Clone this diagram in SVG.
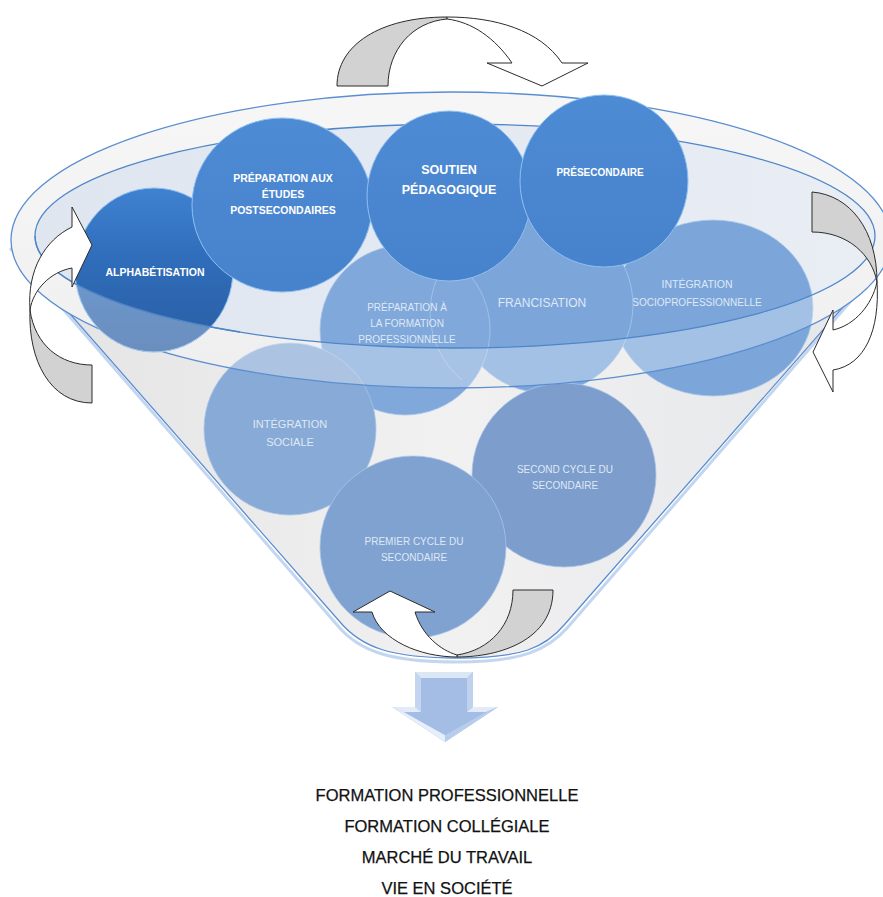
<svg xmlns="http://www.w3.org/2000/svg" width="883" height="897" viewBox="0 0 883 897">
<defs>
<linearGradient id="coneG" x1="0" y1="0" x2="1" y2="0">
<stop offset="0" stop-color="#e3e3e3"/><stop offset="0.5" stop-color="#f1f1f2"/><stop offset="1" stop-color="#e5e6e8"/>
</linearGradient>
<linearGradient id="ringG" x1="0" y1="0" x2="0" y2="1">
<stop offset="0" stop-color="#f3f3f3"/><stop offset="1" stop-color="#e8e8e8"/>
</linearGradient>
<linearGradient id="bowlG" x1="0" y1="0" x2="1" y2="0">
<stop offset="0" stop-color="#dfe6f0"/><stop offset="1" stop-color="#e9edf4"/>
</linearGradient>
<linearGradient id="alphaG" x1="0" y1="0" x2="0" y2="1">
<stop offset="0" stop-color="#3f82d1"/><stop offset="0.45" stop-color="#2f6cb9"/><stop offset="1" stop-color="#2a5ea3"/>
</linearGradient>
<linearGradient id="frontG" x1="0" y1="0" x2="0" y2="1">
<stop offset="0" stop-color="#4e8bd5"/><stop offset="1" stop-color="#4782cc"/>
</linearGradient>
<clipPath id="alphaClip"><ellipse cx="154" cy="270" rx="79" ry="82"/></clipPath>
<style>
.front{fill:url(#frontG);stroke:#8ec0f0;stroke-width:1}
.back{fill:#7ca6da;stroke:#a9c6ea;stroke-width:0.8}
.cone{fill:#86a8d5;stroke:#a9c4e6;stroke-width:0.8}
.ft{font-family:"Liberation Sans",Arial,sans-serif;font-weight:bold;fill:#ffffff;text-anchor:middle;font-size:10.5px}
.bt{font-family:"Liberation Sans",Arial,sans-serif;fill:#dfe8f5;text-anchor:middle;font-size:10px}
.rim{fill:none;stroke:#5b8ed0;stroke-width:1.3}
.arw{stroke:#2b2b2b;stroke-width:1;stroke-linejoin:round}
.wh{fill:#ffffff}
.gr{fill:#d2d2d2}
.out{font-family:"Liberation Sans",Arial,sans-serif;fill:#111111;text-anchor:middle;font-size:16.5px;stroke:#111111;stroke-width:0.25}
</style>
</defs>
<rect width="883" height="897" fill="#ffffff"/>

<g id="funnel">
<path d="M10,248 L338,626 C360,652 392,662 457,662 C522,662 548,650 568,627 L890,256" fill="none" stroke="#c3d6ef" stroke-width="3"/>
<path d="M14,250 L340,622 C362,648 392,658 457,658 C522,658 545,648 565,624 L886,258 Z" fill="url(#coneG)" stroke="#5a8cd0" stroke-width="1.3"/>
<ellipse cx="451" cy="240" rx="440" ry="148" fill="url(#ringG)"/>
<ellipse cx="455" cy="236" rx="420" ry="112" fill="url(#bowlG)"/>
</g>

<g id="node-integration-socioprofessionnelle">
<ellipse class="back" cx="713" cy="308" rx="100" ry="88"/>
<text class="bt" x="697" y="288" style="font-size:10.5px">INTÉGRATION</text>
<text class="bt" x="697" y="306">SOCIOPROFESSIONNELLE</text>
</g>
<g id="node-francisation">
<circle class="back" cx="545" cy="305" r="88"/>
<text class="bt" x="542" y="307" style="font-size:12px">FRANCISATION</text>
</g>
<g id="node-preparation-formation-pro">
<circle class="back" cx="405" cy="330" r="85" style="fill:#80a8da"/>
<path d="M458,248 A88,88 0 0,0 462,380" fill="none" stroke="#a9c6ea" stroke-width="0.8"/>
<text class="bt" x="407" y="311">PRÉPARATION À</text>
<text class="bt" x="407" y="327">LA FORMATION</text>
<text class="bt" x="407" y="343">PROFESSIONNELLE</text>
</g>
<g id="node-integration-sociale">
<circle class="cone" cx="290" cy="429" r="86" style="fill:#88aad6"/>
<text class="bt" x="290" y="428" style="font-size:11px">INTÉGRATION</text>
<text class="bt" x="290" y="446" style="font-size:11px">SOCIALE</text>
</g>
<g id="node-second-cycle">
<circle class="cone" cx="564" cy="475" r="92" style="fill:#7d9dcc"/>
<text class="bt" x="565" y="473">SECOND CYCLE DU</text>
<text class="bt" x="565" y="489">SECONDAIRE</text>
</g>
<g id="node-premier-cycle">
<ellipse class="cone" cx="413" cy="547" rx="93" ry="91" style="fill:#7fa2d1"/>
<text class="bt" x="414" y="545">PREMIER CYCLE DU</text>
<text class="bt" x="414" y="561">SECONDAIRE</text>
</g>

<g id="glass">
<path d="M11,240 A440,148 0 1,0 891,240 A440,148 0 1,0 11,240 Z M35,236 A420,112 0 1,0 875,236 A420,112 0 1,0 35,236 Z" fill-rule="evenodd" fill="#ffffff" fill-opacity="0.3"/>
<ellipse class="rim" cx="451" cy="240" rx="440" ry="148"/>
<ellipse class="rim" cx="455" cy="236" rx="420" ry="112" style="stroke:#4f86c8"/>
</g>

<g id="node-alphabetisation">
<ellipse cx="154" cy="270" rx="79" ry="82" fill="url(#alphaG)" stroke="#8ec0f0" stroke-width="1"/>
<path clip-path="url(#alphaClip)" d="M0,236 L35,236 A420,112 0 0,0 875,236 L900,236 L900,720 L0,720 Z" fill="#ffffff" fill-opacity="0.3"/>
<path d="M35,236 A420,112 0 0,0 240,332" fill="none" stroke="#4f86c8" stroke-width="1.3"/>
<text class="ft" x="155" y="276">ALPHABÉTISATION</text>
</g>
<g id="node-preparation-etudes">
<ellipse class="front" cx="282" cy="205" rx="90" ry="87"/>
<text class="ft" x="283" y="182">PRÉPARATION AUX</text>
<text class="ft" x="283" y="198">ÉTUDES</text>
<text class="ft" x="283" y="214">POSTSECONDAIRES</text>
</g>
<g id="node-soutien">
<ellipse class="front" cx="449" cy="196" rx="82" ry="85"/>
<text class="ft" x="449" y="174" style="font-size:12.5px">SOUTIEN</text>
<text class="ft" x="449" y="194" style="font-size:12.5px">PÉDAGOGIQUE</text>
</g>
<g id="node-presecondaire">
<ellipse class="front" cx="604" cy="181" rx="84" ry="86"/>
<text class="ft" x="600" y="176" style="font-size:10px">PRÉSECONDAIRE</text>
</g>

<g id="connectors">
<path class="arw gr" d="M447,17 C380,17 337,45 337,86 L388,86 C388,50 412,22 447,19 Z"/>
<path class="arw wh" d="M447,17 C495,17 540,30 562,63 L588,63 L542,86 L487,63 L512,63 C495,38 472,22 447,19 Z"/>
<path class="arw gr" d="M30,310 C28,360 50,403 92,403 L92,365 C60,365 35,345 30,310 Z"/>
<path class="arw wh" d="M72,227 C45,240 27,270 30,310 C33,290 50,272 72,268 L72,287 L92,245 L72,207 Z"/>
<path class="arw gr" d="M812,192 C850,195 877,230 877,282 C872,255 848,232 812,232 Z"/>
<path class="arw wh" d="M877,282 C880,330 865,365 833,370 L833,392 L813,352 L833,310 L833,330 C855,325 872,305 877,282 Z"/>
<path class="arw gr" d="M457,657 C500,657 553,640 553,590 L513,590 C513,625 490,650 457,655 Z"/>
<path class="arw wh" d="M457,657 C420,657 380,640 372,612 L353,612 L390,591 L435,612 L415,612 C422,635 440,650 457,655 Z"/>
</g>

<g id="node-down-arrow">
<path d="M415,672 L473,672 L473,707 L498,707 L445,742 L392,707 L415,707 Z" fill="#a9c2e6"/>
<polygon points="415,672 473,672 467,678 421,678" fill="#dce7f6"/>
<polygon points="415,672 421,678 421,712 415,707" fill="#c4d6ef"/>
<polygon points="473,672 467,678 467,712 473,707" fill="#bfd1ec"/>
<polygon points="392,707 415,707 421,712 404,712" fill="#e2ebf7"/>
<polygon points="473,707 498,707 486,712 467,712" fill="#e2ebf7"/>
<polygon points="392,707 404,712 445,735 445,742" fill="#e6eef9"/>
<polygon points="498,707 486,712 445,735 445,742" fill="#b8cdeb"/>
<polygon points="421,678 467,678 467,712 486,712 445,735 404,712 421,712" fill="#a3bde4"/>
</g>

<g id="outcomes">
<text class="out" x="447" y="801">FORMATION PROFESSIONNELLE</text>
<text class="out" x="447" y="832">FORMATION COLLÉGIALE</text>
<text class="out" x="447" y="863">MARCHÉ DU TRAVAIL</text>
<text class="out" x="447" y="894">VIE EN SOCIÉTÉ</text>
</g>
</svg>
